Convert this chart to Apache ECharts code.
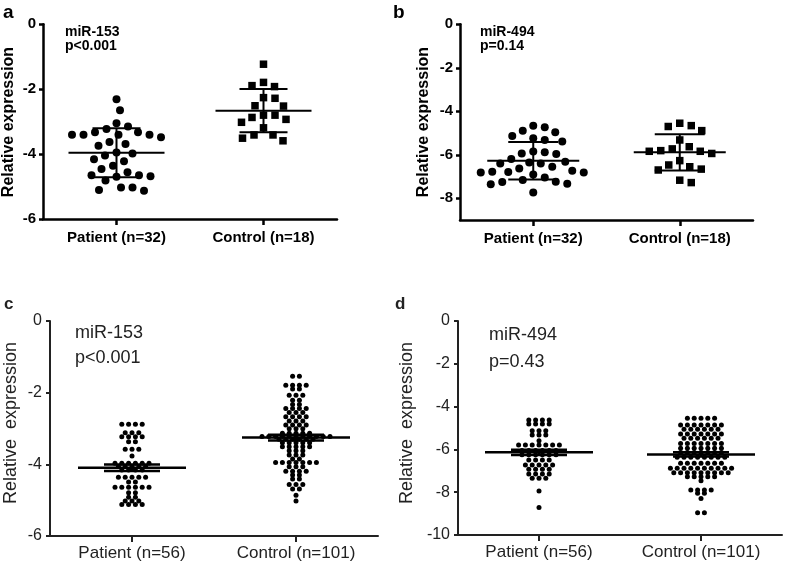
<!DOCTYPE html>
<html><head><meta charset="utf-8">
<script src="https://cdn.jsdelivr.net/npm/echarts@6/dist/echarts.min.js"></script>
<style>html,body{margin:0;padding:0;background:#fff}#chart{width:787px;height:570px}</style>
</head><body><div id="chart"></div>
<script>
// ---------------- data ----------------
const categoriesAB = ['Patient (n=32)', 'Control (n=18)'];
const categoriesCD = ['Patient (n=56)', 'Control (n=101)'];
const yTicksA = [0, -2, -4, -6];
const yTicksB = [0, -2, -4, -6, -8];
const yTicksC = [0, -2, -4, -6];
const yTicksD = [0, -2, -4, -6, -8, -10];

// panel a (miR-153, cohort 1)
const patientA = [-2.31,-2.65,-3.05,-3.15,-3.23,-3.33,-3.33,-3.40,-3.40,-3.40,-3.40,-3.48,-3.63,-3.69,-3.74,-3.95,-3.98,-4.04,-4.16,-4.22,-4.36,-4.46,-4.56,-4.65,-4.68,-4.70,-4.65,-4.81,-5.03,-5.03,-5.11,-5.13];
const controlA = [-1.23,-1.79,-1.92,-1.89,-2.26,-2.28,-2.52,-2.51,-2.80,-2.87,-2.80,-3.02,-2.93,-3.19,-3.41,-3.41,-3.59,-3.51];
// panel b (miR-494, cohort 1)
const patientB = [-4.66,-4.74,-4.97,-4.90,-5.24,-5.39,-5.32,-5.14,-5.85,-5.94,-5.97,-5.89,-6.20,-6.32,-6.40,-6.55,-6.40,-6.35,-6.74,-6.81,-7.04,-6.78,-6.91,-6.81,-6.79,-6.63,-7.24,-7.33,-7.16,-7.36,-7.25,-7.74];
const controlB = [-4.55,-4.70,-4.66,-4.89,-5.32,-5.73,-5.84,-5.94,-5.84,-5.81,-5.63,-6.27,-6.47,-6.66,-6.70,-6.55,-7.28,-7.17];
// panel c (miR-153, cohort 2): [value, number of samples at that value]
const patientCRows = [[-2.88,4],[-3.12,3],[-3.23,4],[-3.37,2],[-3.58,3],[-3.77,1],[-3.97,6],[-4.06,5],[-4.16,4],[-4.36,5],[-4.49,2],[-4.64,6],[-4.79,2],[-4.92,2],[-5.02,3],[-5.12,4]];
const controlCRows = [[-1.54,2],[-1.79,4],[-1.90,2],[-2.07,3],[-2.21,2],[-2.33,2],[-2.44,4],[-2.55,3],[-2.67,4],[-2.79,3],[-2.90,4],[-3.01,3],[-3.13,5],[-3.22,11],[-3.30,6],[-3.40,5],[-3.51,5],[-3.62,3],[-3.74,3],[-3.85,2],[-3.95,7],[-4.07,3],[-4.19,4],[-4.30,2],[-4.41,2],[-4.56,3],[-4.69,2],[-4.86,1],[-5.02,1]];
// panel d (miR-494, cohort 2)
const patientDRows = [[-4.63,4],[-4.81,4],[-5.13,3],[-5.33,3],[-5.59,1],[-5.79,7],[-6.05,6],[-6.25,6],[-6.50,4],[-6.73,5],[-6.93,4],[-7.15,4],[-7.35,3],[-7.94,1],[-8.72,1]];
const controlDRows = [[-4.55,5],[-4.86,7],[-5.06,6],[-5.28,7],[-5.48,6],[-5.72,7],[-5.95,7],[-6.15,7],[-6.37,8],[-6.65,7],[-6.88,10],[-7.09,9],[-7.28,5],[-7.46,1],[-7.90,4],[-8.05,2],[-8.29,1],[-8.96,2]];

// ---------------- helpers ----------------
function expandRows(rows){ const out=[]; rows.forEach(([v,n])=>{for(let i=0;i<n;i++) out.push(v);}); return out; }
function mean(a){ return a.reduce((s,v)=>s+v,0)/a.length; }
function sd(a){ const m=mean(a); return Math.sqrt(a.reduce((s,v)=>s+(v-m)*(v-m),0)/(a.length-1)); }
function sem(a){ return sd(a)/Math.sqrt(a.length); }

// greedy beeswarm (pixel space) -> x offsets in axis units
function swarm(values, pxPerX, pxPerY, dist){
  const order = values.map((v,i)=>i).sort((a,b)=>values[b]-values[a]);
  const placed=[]; const off=new Array(values.length); let flip=false;
  for(const i of order){
    const y=values[i]*pxPerY; let best=null;
    for(let k=0;k<400 && best===null;k++){
      const c = k===0 ? [0] : (flip ? [k*0.5,-k*0.5] : [-k*0.5,k*0.5]);
      for(const x of c){
        if(placed.every(p=>(p.x-x)*(p.x-x)+(p.y-y)*(p.y-y)>=dist*dist)){ best=x; break; }
      }
    }
    flip=!flip;
    placed.push({x:best,y}); off[i]=best/pxPerX;
  }
  return off;
}
// rows of identical values spread symmetrically
function rowLayout(values, pxPerX, step){
  const groups={}; values.forEach((v,i)=>{(groups[v]=groups[v]||[]).push(i);});
  const off=new Array(values.length);
  Object.values(groups).forEach(g=>{ g.forEach((i,j)=>{ off[i]=((j-(g.length-1)/2)*step)/pxPerX; }); });
  return off;
}

// ---------------- layout ----------------
const panels = [
  {left:43, top:24.3, width:294, height:194.7, min:-6, max:0, ticks:yTicksA, cats:categoriesAB,
   groups:[patientA, controlA], symbols:['circle','rect'], symSize:[8,7.5], mode:'swarm', dist:11.5,
   err:'sd', hw:48, cw:24, bold:true, axisW:2.5, lw:2},
  {left:460, top:24.3, width:293, height:195.7, min:-9, max:0, ticks:yTicksB, cats:categoriesAB,
   groups:[patientB, controlB], symbols:['circle','rect'], symSize:[8,7.5], mode:'swarm', dist:11.5,
   err:'sd', hw:46, cw:25, bold:true, axisW:2.5, lw:2},
  {left:50, top:321, width:328, height:215, min:-6, max:0, ticks:yTicksC, cats:categoriesCD,
   groups:[expandRows(patientCRows), expandRows(controlCRows)], symbols:['circle','circle'], symSize:[5,5], mode:'rows', step:6.8,
   err:'sem', hw:54, cw:28, bold:false, axisW:2, lw:2.5},
  {left:458, top:321, width:324, height:214, min:-10, max:0, ticks:yTicksD, cats:categoriesCD,
   groups:[expandRows(patientDRows), expandRows(controlDRows)], symbols:['circle','circle'], symSize:[5,5], mode:'rows', step:6.8,
   err:'sem', hw:54, cw:28, bold:false, axisW:2, lw:2.5}
];

const FONT = '"Liberation Sans", Arial, sans-serif';
const grid=[], xAxis=[], yAxis=[], series=[];
panels.forEach((p,pi)=>{
  const txtColor = p.bold ? '#000' : '#222';
  grid.push({left:p.left, top:p.top, width:p.width, height:p.height, containLabel:false});
  const cats = p.cats;
  xAxis.push({type:'value', gridIndex:pi, min:0, max:2,
    axisLine:{show:true, onZero:false, lineStyle:{color:txtColor, width:p.axisW}},
    axisTick:{show:true, customValues:[0.5,1.5], length:6, lineStyle:{color:txtColor, width:p.axisW}},
    axisLabel:{customValues:[0.5,1.5], formatter:v=> v<1 ? cats[0] : cats[1], color:txtColor,
      fontFamily:FONT, fontSize:p.bold?15:17, fontWeight:p.bold?'bold':'normal', margin:p.bold?11:9},
    splitLine:{show:false}});
  yAxis.push({type:'value', gridIndex:pi, min:p.min, max:p.max,
    axisLine:{show:true, onZero:false, lineStyle:{color:txtColor, width:p.axisW}},
    axisTick:{show:true, customValues:p.ticks, length:4, lineStyle:{color:txtColor, width:p.axisW}},
    axisLabel:{customValues:p.ticks, color:txtColor, fontFamily:FONT, fontSize:p.bold?15:16,
      fontWeight:p.bold?'bold':'normal', margin:p.bold?7:8},
    splitLine:{show:false}});
  const pxPerX = p.width/2, pxPerY = p.height/(p.max-p.min);
  const errData=[];
  p.groups.forEach((vals,gi)=>{
    const center = gi===0 ? 0.5 : 1.5;
    const off = p.mode==='swarm' ? swarm(vals, pxPerX, pxPerY, p.dist) : rowLayout(vals, pxPerX, p.step);
    series.push({type:'scatter', xAxisIndex:pi, yAxisIndex:pi, symbol:p.symbols[gi], symbolSize:p.symSize[gi],
      itemStyle:{color:'#000', opacity:1}, silent:true, z:2,
      data: vals.map((v,i)=>[center+off[i], v])});
    errData.push([center, mean(vals), p.err==='sd' ? sd(vals) : sem(vals)]);
  });
  series.push({type:'custom', xAxisIndex:pi, yAxisIndex:pi, z:5, silent:true, data:errData,
    renderItem:(params, api)=>{
      const c=api.value(0), m=api.value(1), e=api.value(2);
      const pm=api.coord([c,m]), pt=api.coord([c,m+e]), pb=api.coord([c,m-e]);
      const st={stroke:'#000', lineWidth:p.lw};
      return {type:'group', children:[
        {type:'line', shape:{x1:pm[0]-p.hw, y1:pm[1], x2:pm[0]+p.hw, y2:pm[1]}, style:st},
        {type:'line', shape:{x1:pt[0], y1:pt[1], x2:pb[0], y2:pb[1]}, style:st},
        {type:'line', shape:{x1:pt[0]-p.cw, y1:pt[1], x2:pt[0]+p.cw, y2:pt[1]}, style:st},
        {type:'line', shape:{x1:pb[0]-p.cw, y1:pb[1], x2:pb[0]+p.cw, y2:pb[1]}, style:st}
      ]};
    }});
});

function txt(text, x, y, size, weight, color, rot, align){
  return {type:'text', x, y, rotation:rot||0, silent:true,
    style:{text, fill:color, font:`${weight} ${size}px ${FONT}`, align:align||'left', verticalAlign:'middle',
      textAlign:align||'left', textVerticalAlign:'middle'}};
}
const graphic = [
  txt('a', 3, 13, 19, 'bold', '#000'),
  txt('b', 393, 13, 19, 'bold', '#000'),
  txt('c', 4, 304, 17, 'bold', '#222'),
  txt('d', 395, 304, 17, 'bold', '#222'),
  txt('Relative expression', 9, 122, 16, 'bold', '#000', Math.PI/2, 'center'),
  txt('Relative expression', 424, 122, 16, 'bold', '#000', Math.PI/2, 'center'),
  txt('Relative  expression', 11, 423, 18, 'normal', '#222', Math.PI/2, 'center'),
  txt('Relative  expression', 407, 423, 18, 'normal', '#222', Math.PI/2, 'center'),
  txt('miR-153', 65, 32, 14, 'bold', '#000'),
  txt('p<0.001', 65, 46, 14, 'bold', '#000'),
  txt('miR-494', 480, 32, 14, 'bold', '#000'),
  txt('p=0.14', 480, 46, 14, 'bold', '#000'),
  txt('miR-153', 75, 333, 18, 'normal', '#222'),
  txt('p<0.001', 75, 358, 18, 'normal', '#222'),
  txt('miR-494', 489, 335, 18, 'normal', '#222'),
  txt('p=0.43', 489, 362, 18, 'normal', '#222')
];

const chart = echarts.init(document.getElementById('chart'), null, {renderer:'canvas'});
chart.setOption({animation:false, backgroundColor:'#fff', grid, xAxis, yAxis, series, graphic});
</script></body></html>
